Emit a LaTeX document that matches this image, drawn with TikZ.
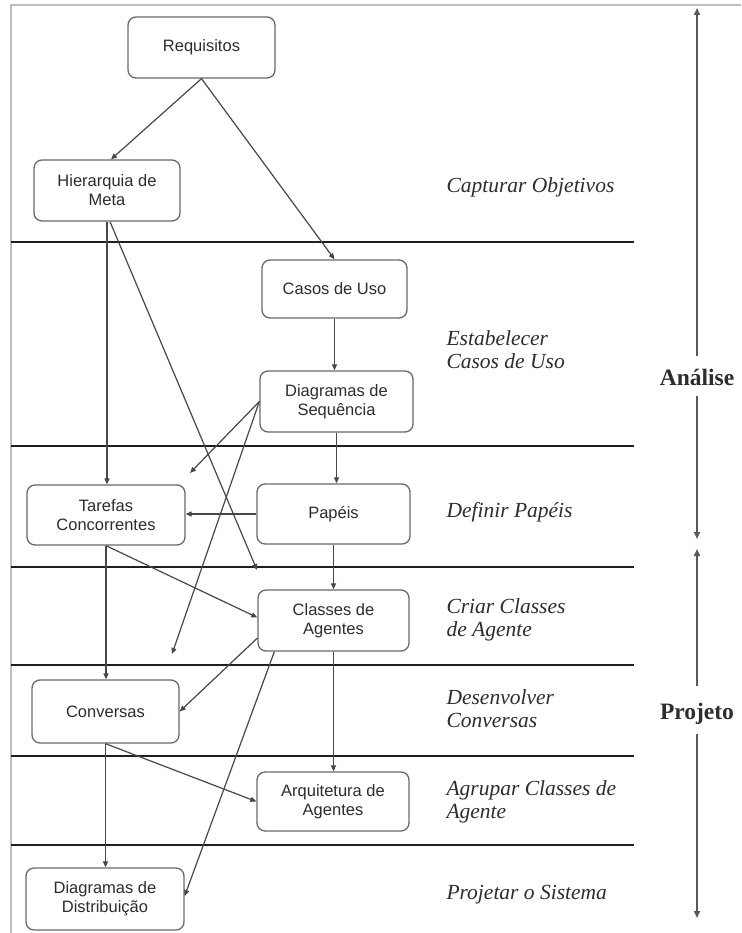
\documentclass[tikz,border=0pt]{standalone}
\usepackage{fontspec}
\setmainfont{Liberation Serif}
\newfontfamily\boxfont{Liberation Sans}
\usetikzlibrary{arrows.meta,calc}
\definecolor{boxgray}{RGB}{105,105,105}
\definecolor{framegray}{RGB}{190,190,190}
\definecolor{inkgray}{RGB}{45,45,45}
\begin{document}
\begin{tikzpicture}[x=1pt,y=-1pt,
  stage/.style={draw=boxgray, line width=1.3pt, rounded corners=8pt, fill=white,
    minimum width=150pt, minimum height=61pt, align=center, inner sep=2pt,
    font=\boxfont\fontsize{16.5}{19}\selectfont, text=inkgray},
  flow/.style={draw=black!72, line width=1.2pt, -{Triangle[length=6pt,width=5pt]}},
  divider/.style={draw=black!88, line width=1.8pt},
  phase/.style={anchor=west, align=left, text=inkgray,
    font=\itshape\fontsize{21.5}{23}\selectfont},
  era/.style={font=\bfseries\fontsize{23.5}{26}\selectfont, text=inkgray, inner sep=0pt},
  span/.style={draw=black!65, line width=2.2pt, -{Triangle[length=7pt,width=6pt]}},
]
% canvas and the frame on the top and left edges
\useasboundingbox (0,0) rectangle (741,933);
\fill[white] (0,0) rectangle (741,933);
\draw[framegray, line width=1.5pt] (741,5) -- (11,5) -- (11,933);

% stage dividers
\foreach \yy in {242,446,567,665,756,845}
  \draw[divider] (11,\yy) -- (634,\yy);

% activity boxes
\node[stage, minimum width=147pt] (req) at (201.5,47.5) {Requisitos};
\node[stage, minimum width=146pt] (hier) at (107,190.5) {Hierarquia de\\Meta};
\node[stage, minimum width=145pt, minimum height=58pt] (casos) at (334.5,289) {Casos de Uso};
\node[stage, minimum width=153pt] (diag) at (336.5,401.5) {Diagramas de\\Sequência};
\node[stage, minimum width=153pt, minimum height=60pt] (pap) at (333.5,514) {Papéis};
\node[stage, minimum width=158pt, minimum height=60pt] (tar) at (106,515) {Tarefas\\Concorrentes};
\node[stage, minimum width=151pt] (cls) at (333.5,620.5) {Classes de\\Agentes};
\node[stage, minimum width=147pt, minimum height=63pt] (conv) at (105.5,711.5) {Conversas};
\node[stage, minimum width=152pt, minimum height=59pt] (arq) at (333,801.5) {Arquitetura de\\Agentes};
\node[stage, minimum width=158pt, minimum height=62pt] (dist) at (105,899) {Diagramas de\\Distribuição};

% loose arrow ends
\coordinate (hierend) at (257,570);
\coordinate (diagendA) at (190,473);
\coordinate (diagendB) at (172,654);

% connectors
\draw[flow] (req.south) -- ([xshift=4pt]hier.north);
\draw[flow] (req.south) -- (casos.north);
\draw[flow] (hier.south) -- (hier.south |- tar.north);
\draw[flow] ([xshift=3pt]hier.south) -- (hierend);
\draw[flow] (casos.south) -- (casos.south |- diag.north);
\draw[flow] (diag.south) -- (diag.south |- pap.north);
\draw[flow] (diag.west) -- (diagendA);
\draw[flow] (diag.west) -- (diagendB);
\draw[flow] (pap.west) -- (pap.west -| tar.east);
\draw[flow] (pap.south) -- (pap.south |- cls.north);
\draw[flow] (tar.south) -- ([yshift=3pt]cls.west);
\draw[flow] (tar.south) -- (tar.south |- conv.north);
\draw[flow] (cls.193) -- (conv.east);
\draw[flow] ([xshift=17pt]cls.south west) -- ([yshift=3pt]dist.east);
\draw[flow] (cls.south) -- (cls.south |- arq.north);
\draw[flow] (conv.south) -- (arq.west);
\draw[flow] (conv.south) -- (conv.south |- dist.north);

% stage names
\node[phase] (p1) at (443,187) {Capturar Objetivos};
\node[phase] (p2) at (443,350) {Estabelecer\\Casos de Uso};
\node[phase] (p3) at (443,512) {Definir Papéis};
\node[phase] (p4) at (443,620) {Criar Classes\\de Agente};
\node[phase] (p5) at (443,709) {Desenvolver\\Conversas};
\node[phase] (p6) at (443,802) {Agrupar Classes de\\Agente};
\node[phase] (p7) at (443,895) {Projetar o Sistema};

% analysis and design spans, broken around their labels
\node[era] (ana) at (697,377) {Análise};
\node[era] (proj) at (697,714) {Projeto};
\coordinate (anatop) at (697,8);
\coordinate (anaup) at (697,356);
\coordinate (anadown) at (697,396);
\coordinate (anabot) at (697,539);
\coordinate (projtop) at (697,549);
\coordinate (projup) at (697,686);
\coordinate (projdown) at (697,734);
\coordinate (projbot) at (697,918);
\draw[span] (anaup) -- (anatop);
\draw[span] (anadown) -- (anabot);
\draw[span] (projup) -- (projtop);
\draw[span] (projdown) -- (projbot);
\end{tikzpicture}
\end{document}
